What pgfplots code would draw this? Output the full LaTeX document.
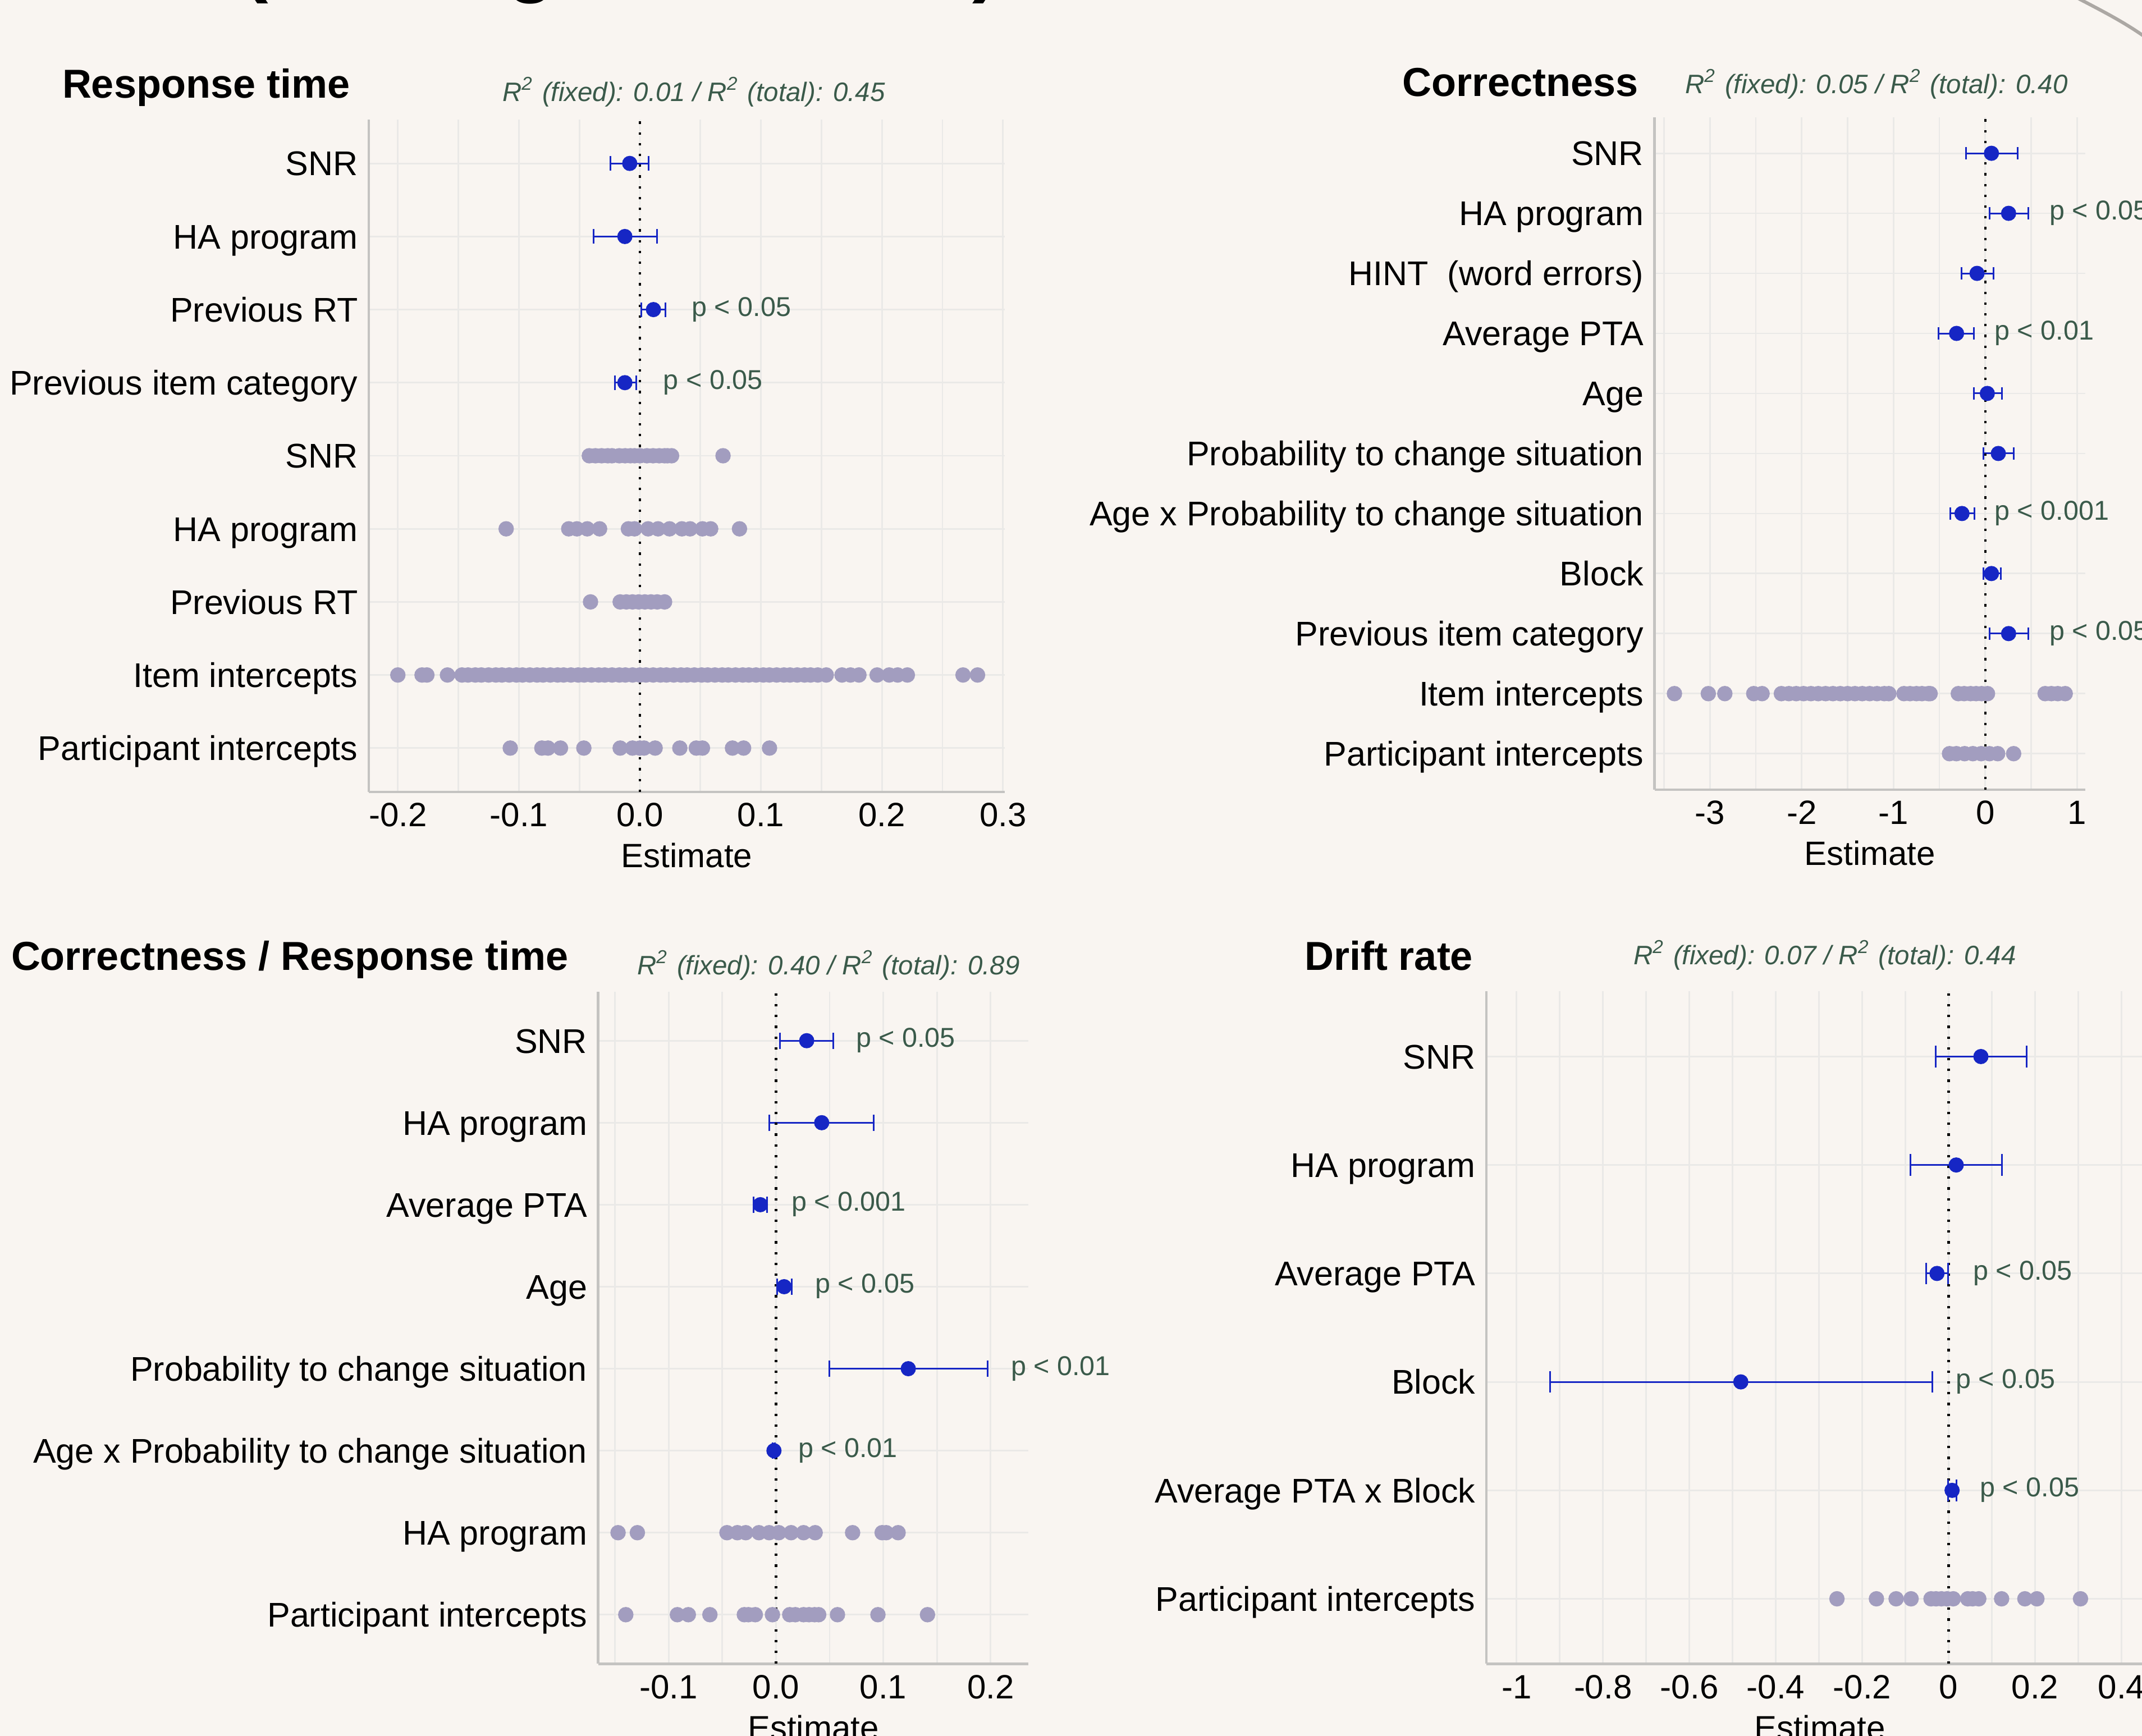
\documentclass[border=0pt]{standalone}
\usepackage{fontspec}
\setmainfont{Liberation Sans}
\usepackage{pgfplots}
\usepackage{pgfplotstable}
\pgfplotsset{compat=1.18}
\definecolor{bgc}{RGB}{249,245,241}
\definecolor{gridc}{RGB}{234,233,231}
\definecolor{axc}{RGB}{196,195,193}
\definecolor{fixc}{RGB}{22,38,196}
\definecolor{rndc}{RGB}{162,157,191}
\definecolor{txtc}{RGB}{58,90,74}
\definecolor{decoc}{RGB}{172,168,164}
\newcommand{\ticksz}{\fontsize{6}{7}\selectfont}
\newcommand{\labsz}{\fontsize{6.1}{7}\selectfont}
\newcommand{\psz}{\fontsize{4.85}{5.5}\selectfont}
\newcommand{\rsz}{\fontsize{4.75}{5.5}\selectfont\itshape}
\newcommand{\tsz}{\fontsize{7.2}{8.5}\selectfont\bfseries}

\tikzset{zl/.style={draw=black, line width=0.42pt, dash pattern=on 0.42pt off 1.5pt}}
\pgfplotsset{
 fp/.style={
  scale only axis, anchor=south west, clip=false,
  height=119.8pt, ymin=0.4,
  axis x line*=bottom, axis y line*=left,
  axis line style={draw=axc, line width=0.45pt, -},
  major tick length=0pt, minor tick length=0pt, tick style={draw=none},
  xmajorgrids, xminorgrids, ymajorgrids,
  major grid style={draw=gridc, line width=0.28pt},
  minor grid style={draw=gridc, line width=0.28pt},
  xticklabel style={font=\ticksz, anchor=base, inner sep=0pt, yshift=-6.2pt},
  yticklabel style={font=\labsz, anchor=base east, inner sep=0pt, xshift=-1.75pt, yshift=-2.18pt},
  xlabel={Estimate},
  xlabel style={font=\ticksz, at={(axis description cs:0.5,0)}, anchor=base, inner sep=0pt, yshift=-13.5pt},
 },
 rnd/.style={only marks, mark=*, color=rndc, mark size=1.17pt, mark options={line width=0.4pt, draw=rndc, fill=rndc}},
}

% #1 table, #2 half height of the caps
\newcommand{\fixedplot}[2]{%
 \addplot[draw=none, mark=none, error bars/.cd, x dir=both, x explicit, error mark=-, error mark options={mark size=0pt}, error bar style={draw=fixc, line width=0.3pt}] table[x=est, y=y, x error plus expr=\thisrow{hi}-\thisrow{est}, x error minus expr=\thisrow{est}-\thisrow{lo}]{#1};
 \addplot[only marks, color=fixc, mark=|, mark size=#2, mark options={draw=fixc, line width=0.3pt}] table[x=lo, y=y]{#1};
 \addplot[only marks, color=fixc, mark=|, mark size=#2, mark options={draw=fixc, line width=0.3pt}] table[x=hi, y=y]{#1};
 \addplot[only marks, color=fixc, mark=*, mark size=1.15pt, mark options={line width=0.4pt, draw=fixc, fill=fixc}] table[x=est, y=y]{#1};
}
\newcommand{\ptext}[3]{\node[anchor=base west, inner sep=0pt, font=\psz, text=txtc, yshift=-1.15pt] at (axis cs:#1,#2) {p < #3};}

% ---------------- Response time ----------------
\pgfplotstableread[row sep=\\]{
y est lo hi\\
9 -0.0084 -0.0242 0.0073\\
8 -0.0124 -0.0382 0.0140\\
7 0.0112 0.0011 0.0213\\
6 -0.0124 -0.0208 -0.0028\\
}\TLfix
\pgfplotstableread[row sep=\\]{
x y\\
-0.0418 5\\ -0.0367 5\\ -0.0316 5\\ -0.0265 5\\ -0.0231 5\\ -0.0170 5\\ -0.0122 5\\ -0.0078 5\\ -0.0044 5\\ 0.0000 5\\ 0.0058 5\\ 0.0109 5\\ 0.0160 5\\ 0.0204 5\\ 0.0228 5\\ 0.0262 5\\ 0.0687 5\\
-0.1105 4\\ -0.0588 4\\ -0.0520 4\\ -0.0435 4\\ -0.0333 4\\ -0.0095 4\\ -0.0044 4\\ 0.0068 4\\ 0.0150 4\\ 0.0245 4\\ 0.0347 4\\ 0.0415 4\\ 0.0517 4\\ 0.0585 4\\ 0.0823 4\\
-0.0408 3\\ -0.0163 3\\ -0.0112 3\\ -0.0061 3\\ -0.0010 3\\ 0.0041 3\\ 0.0092 3\\ 0.0143 3\\ 0.0204 3\\
-0.200 2\\ -0.180 2\\ -0.176 2\\ -0.159 2\\ -0.147 2\\ -0.142 2\\ -0.136 2\\ -0.131 2\\ -0.125 2\\ -0.119 2\\ -0.114 2\\ -0.108 2\\ -0.102 2\\ -0.097 2\\ -0.091 2\\ -0.085 2\\ -0.080 2\\ -0.074 2\\ -0.068 2\\ -0.063 2\\ -0.057 2\\ -0.051 2\\ -0.046 2\\ -0.040 2\\ -0.034 2\\ -0.029 2\\ -0.023 2\\ -0.017 2\\ -0.012 2\\ -0.006 2\\ 0.000 2\\ 0.005 2\\ 0.011 2\\ 0.017 2\\ 0.022 2\\ 0.028 2\\ 0.034 2\\ 0.039 2\\ 0.045 2\\ 0.051 2\\ 0.056 2\\ 0.062 2\\ 0.068 2\\ 0.073 2\\ 0.079 2\\ 0.085 2\\ 0.090 2\\ 0.096 2\\ 0.102 2\\ 0.107 2\\ 0.113 2\\ 0.119 2\\ 0.124 2\\ 0.130 2\\ 0.136 2\\ 0.141 2\\ 0.147 2\\ 0.154 2\\ 0.167 2\\ 0.174 2\\ 0.181 2\\ 0.196 2\\ 0.206 2\\ 0.213 2\\ 0.221 2\\ 0.267 2\\ 0.279 2\\
-0.1071 1\\ -0.0810 1\\ -0.0759 1\\ -0.0656 1\\ -0.0463 1\\ -0.0163 1\\ -0.0061 1\\ 0.0000 1\\ 0.0034 1\\ 0.0126 1\\ 0.0330 1\\ 0.0466 1\\ 0.0517 1\\ 0.0765 1\\ 0.0857 1\\ 0.1071 1\\
}\TLrand

% ---------------- Correctness ----------------
\pgfplotstableread[row sep=\\]{
y est lo hi\\
11 0.067 -0.209 0.351\\
10 0.254 0.045 0.470\\
9 -0.090 -0.261 0.090\\
8 -0.313 -0.507 -0.127\\
7 0.022 -0.127 0.179\\
6 0.142 -0.022 0.313\\
5 -0.254 -0.381 -0.119\\
4 0.067 -0.022 0.172\\
3 0.254 0.045 0.470\\
}\TRfix
\pgfplotstableread[row sep=\\]{
x y\\
-3.387 2\\ -3.018 2\\ -2.838 2\\ -2.523 2\\ -2.432 2\\ -2.222 2\\ -2.14 2\\ -2.06 2\\ -1.98 2\\ -1.90 2\\ -1.82 2\\ -1.74 2\\ -1.66 2\\ -1.58 2\\ -1.50 2\\ -1.42 2\\ -1.34 2\\ -1.26 2\\ -1.18 2\\ -1.10 2\\ -1.051 2\\ -0.886 2\\ -0.82 2\\ -0.75 2\\ -0.69 2\\ -0.62 2\\ -0.601 2\\ -0.294 2\\ -0.23 2\\ -0.16 2\\ -0.10 2\\ -0.04 2\\ 0.024 2\\ 0.652 2\\ 0.72 2\\ 0.79 2\\ 0.871 2\\
-0.39 1\\ -0.315 1\\ -0.225 1\\ -0.135 1\\ -0.045 1\\ 0.045 1\\ 0.135 1\\ 0.309 1\\
}\TRrand

% ---------------- Correctness / Response time ----------------
\pgfplotstableread[row sep=\\]{
y est lo hi\\
8 0.0286 0.0038 0.0534\\
7 0.0426 -0.0064 0.0909\\
6 -0.0146 -0.0210 -0.0083\\
5 0.0076 0.0013 0.0146\\
4 0.1233 0.0496 0.1971\\
3 -0.0019 -0.0030 -0.0008\\
}\BLfix
\pgfplotstableread[row sep=\\]{
x y\\
-0.1472 2\\ -0.1292 2\\ -0.0457 2\\ -0.0360 2\\ -0.0282 2\\ -0.0159 2\\ -0.0064 2\\ 0.0026 2\\ 0.0141 2\\ 0.0257 2\\ 0.0365 2\\ 0.0714 2\\ 0.0989 2\\ 0.1027 2\\ 0.1138 2\\
-0.1400 1\\ -0.0919 1\\ -0.0817 1\\ -0.0616 1\\ -0.0295 1\\ -0.0257 1\\ -0.0193 1\\ -0.0033 1\\ 0.0128 1\\ 0.0180 1\\ 0.0257 1\\ 0.0308 1\\ 0.0360 1\\ 0.0398 1\\ 0.0573 1\\ 0.0950 1\\ 0.1412 1\\
}\BLrand

% ---------------- Drift rate ----------------
\pgfplotstableread[row sep=\\]{
y est lo hi\\
6 0.0746 -0.030 0.181\\
5 0.0175 -0.0889 0.1238\\
4 -0.027 -0.0524 -0.0016\\
3 -0.481 -0.922 -0.038\\
2 0.0079 -0.002 0.0175\\
}\BRfix
\pgfplotstableread[row sep=\\]{
x y\\
-0.2585 1\\ -0.1672 1\\ -0.1216 1\\ -0.0870 1\\ -0.0408 1\\ -0.0293 1\\ -0.0168 1\\ -0.0038 1\\ 0.0106 1\\ 0.0442 1\\ 0.0553 1\\ 0.0697 1\\ 0.1225 1\\ 0.1764 1\\ 0.2042 1\\ 0.3051 1\\
}\BRrand

\begin{document}
\begin{tikzpicture}
\path[use as bounding box] (0,0) rectangle (381.6pt,309.3pt);
\clip (0,0) rectangle (381.6pt,309.3pt);
\fill[bgc] (0,0) rectangle (381.6pt,309.3pt);

% remnants of the cut-off figure title
\node[font=\fontsize{14}{16}\selectfont\bfseries, anchor=base, inner sep=0pt] at (45.5pt,311.5pt) {(};
\node[font=\fontsize{14}{16}\selectfont\bfseries, anchor=base, inner sep=0pt] at (94.6pt,311.5pt) {g};
\node[font=\fontsize{14}{16}\selectfont\bfseries, anchor=base, inner sep=0pt] at (175.6pt,311.5pt) {)};
\draw[decoc, line width=0.6pt] (369.8pt,309.8pt) .. controls (374pt,307.6pt) and (378pt,305.6pt) .. (382pt,302.8pt);

% ===== Response time =====
\begin{axis}[fp, at={(65.7pt,168.2pt)}, width=113.3pt,
  xmin=-0.224, xmax=0.3015, ymax=9.6,
  xtick={-0.2,-0.1,0,0.1,0.2,0.3}, xticklabels={-0.2,-0.1,0.0,0.1,0.2,0.3},
  minor xtick={-0.15,-0.05,0.05,0.15,0.25},
  ytick={1,...,9},
  yticklabels={Participant intercepts,Item intercepts,Previous RT,HA program,SNR,Previous item category,Previous RT,HA program,SNR}]
 \addplot[rnd] table[x=x,y=y]{\TLrand};
 \fixedplot{\TLfix}{1.3pt}
 \draw[zl] (axis cs:0,0.4) -- (axis cs:0,9.6);
 \ptext{0.042}{7}{0.05}
 \ptext{0.0185}{6}{0.05}
\end{axis}

% ===== Correctness =====
\begin{axis}[fp, at={(294.75pt,168.6pt)}, width=76.7pt,
  xmin=-3.604, xmax=1.087, ymax=11.6,
  xtick={-3,-2,-1,0,1}, xticklabels={-3,-2,-1,0,1},
  minor xtick={-3.5,-2.5,-1.5,-0.5,0.5},
  ytick={1,...,11},
  yticklabels={Participant intercepts,Item intercepts,Previous item category,Block,Age x Probability to change situation,Probability to change situation,Age,Average PTA,HINT~ (word errors),HA program,SNR}]
 \addplot[rnd] table[x=x,y=y]{\TRrand};
 \fixedplot{\TRfix}{1.07pt}
 \draw[zl] (axis cs:0,0.4) -- (axis cs:0,11.6);
 \ptext{0.687}{10}{0.05}
 \ptext{0.09}{8}{0.01}
 \ptext{0.09}{5}{0.001}
 \ptext{0.687}{3}{0.05}
\end{axis}

% ===== Correctness / Response time =====
\begin{axis}[fp, at={(106.55pt,12.85pt)}, width=76.65pt,
  xmin=-0.1658, xmax=0.2352, ymax=8.6,
  xtick={-0.1,0,0.1,0.2}, xticklabels={-0.1,0.0,0.1,0.2},
  minor xtick={-0.15,-0.05,0.05,0.15},
  ytick={1,...,8},
  yticklabels={Participant intercepts,HA program,Age x Probability to change situation~,Probability to change situation,Age,Average PTA,HA program,SNR}]
 \addplot[rnd] table[x=x,y=y]{\BLrand};
 \fixedplot{\BLfix}{1.46pt}
 \draw[zl] (axis cs:0,0.4) -- (axis cs:0,8.6);
 \ptext{0.0737}{8}{0.05}
 \ptext{0.0134}{6}{0.001}
 \ptext{0.0356}{5}{0.05}
 \ptext{0.218}{4}{0.01}
 \ptext{0.0197}{3}{0.01}
\end{axis}

% ===== Drift rate =====
\begin{axis}[fp, at={(264.78pt,12.85pt)}, width=118.78pt,
  xmin=-1.07, xmax=0.473, ymax=6.6,
  xtick={-1,-0.8,-0.6,-0.4,-0.2,0,0.2,0.4}, xticklabels={-1,-0.8,-0.6,-0.4,-0.2,0,0.2,0.4},
  minor xtick={-0.9,-0.7,-0.5,-0.3,-0.1,0.1,0.3},
  ytick={1,...,6},
  yticklabels={Participant intercepts,Average PTA x Block,Block,Average PTA,HA program,SNR}]
 \addplot[rnd] table[x=x,y=y]{\BRrand};
 \fixedplot{\BRfix}{1.93pt}
 \draw[zl] (axis cs:0,0.4) -- (axis cs:0,6.6);
 \ptext{0.054}{4}{0.05}
 \ptext{0.0143}{3}{0.05}
 \ptext{0.07}{2}{0.05}
\end{axis}

% ===== titles and R^2 annotations =====
\node[font=\tsz, anchor=base west, inner sep=0pt] at (10.9pt,291.8pt) {Response time};
\node[font=\rsz, text=txtc, anchor=base west, inner sep=0pt] at (89.3pt,291.2pt) {R\textsuperscript{2} (fixed): 0.01 / R\textsuperscript{2} (total): 0.45};
\node[font=\tsz, anchor=base west, inner sep=0pt] at (249.6pt,292.1pt) {Correctness};
\node[font=\rsz, text=txtc, anchor=base west, inner sep=0pt] at (300.0pt,292.6pt) {R\textsuperscript{2} (fixed): 0.05 / R\textsuperscript{2} (total): 0.40};
\node[font=\tsz, anchor=base west, inner sep=0pt] at (1.8pt,136.4pt) {Correctness / Response time};
\node[font=\rsz, text=txtc, anchor=base west, inner sep=0pt] at (113.3pt,135.6pt) {R\textsuperscript{2} (fixed): 0.40 / R\textsuperscript{2} (total): 0.89};
\node[font=\tsz, anchor=base west, inner sep=0pt] at (232.2pt,136.4pt) {Drift rate};
\node[font=\rsz, text=txtc, anchor=base west, inner sep=0pt] at (290.8pt,137.4pt) {R\textsuperscript{2} (fixed): 0.07 / R\textsuperscript{2} (total): 0.44};
\end{tikzpicture}
\end{document}
